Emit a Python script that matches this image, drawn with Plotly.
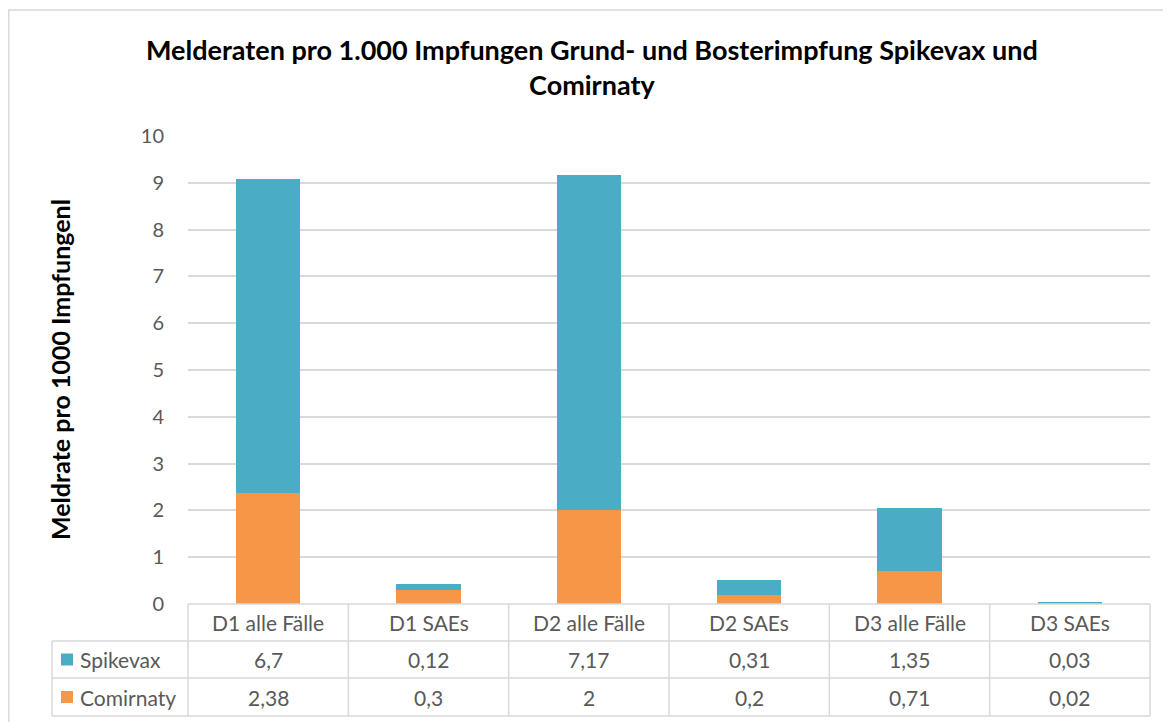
import plotly.graph_objects as go

categories = ["D1 alle Fälle", "D1 SAEs", "D2 alle Fälle", "D2 SAEs", "D3 alle Fälle", "D3 SAEs"]
spikevax = [6.7, 0.12, 7.17, 0.31, 1.35, 0.03]
comirnaty = [2.38, 0.3, 2, 0.2, 0.71, 0.02]
series = [("Spikevax", spikevax, "#4BACC6"), ("Comirnaty", comirnaty, "#F79646")]

W, H = 1171, 722
OFF = 8  # page body margin
L, R, T, B = 188, 1150, 136, 604  # plot area in screen pixels
FONT = "Lato"
GREY = "#595959"
LINE = "#d9d9d9"


def px_x(p):
    return (p - L) / (R - L)


def px_y(p):
    return (B - p) / (B - T)


def de(v):
    return f"{v:g}".replace(".", ",")


fig = go.Figure()
# Comirnaty is the bottom segment of each stack
for name, vals, col in reversed(series):
    fig.add_trace(go.Bar(name=name, x=categories, y=vals, marker_color=col,
                         marker_line_width=0, width=0.4))

shapes = []
annotations = []

# data table grid
row_y = [604, 641, 678, 716]
for i, yy in enumerate(row_y):
    x0 = L if i == 0 else 52
    shapes.append(dict(type="line", xref="paper", yref="paper",
                       x0=px_x(x0), x1=1, y0=px_y(yy), y1=px_y(yy),
                       line=dict(color=LINE, width=1.5)))
col_w = (R - L) / len(categories)
for j in range(len(categories) + 1):
    xx = L + j * col_w
    shapes.append(dict(type="line", xref="paper", yref="paper",
                       x0=px_x(xx), x1=px_x(xx), y0=px_y(604), y1=px_y(716),
                       line=dict(color=LINE, width=1.5)))
shapes.append(dict(type="line", xref="paper", yref="paper",
                   x0=px_x(52), x1=px_x(52), y0=px_y(641), y1=px_y(716),
                   line=dict(color=LINE, width=1.5)))

# outer chart border
shapes.append(dict(type="rect", xref="paper", yref="paper",
                   x0=px_x(8.8), x1=px_x(1200), y0=px_y(10), y1=px_y(760),
                   line=dict(color=LINE, width=1.5)))

cell_font = dict(family=FONT, size=21, color=GREY)

# header row
for c in categories:
    annotations.append(dict(x=c, xref="x", y=px_y(622.5), yref="paper",
                            text=c, showarrow=False, xanchor="center", yanchor="middle",
                            font=cell_font))

# value rows with legend keys
for k, (name, vals, col) in enumerate(series):
    yc = 659.5 + k * 37.5
    shapes.append(dict(type="rect", xref="paper", yref="paper",
                       x0=px_x(61), x1=px_x(73), y0=px_y(yc - 6), y1=px_y(yc + 6),
                       fillcolor=col, line_width=0))
    annotations.append(dict(x=px_x(78), xref="paper", y=px_y(yc), yref="paper",
                            text=name, showarrow=False, xanchor="left", yanchor="middle",
                            font=cell_font))
    for c, v in zip(categories, vals):
        annotations.append(dict(x=c, xref="x", y=px_y(yc), yref="paper",
                                text=de(v), showarrow=False, xanchor="center",
                                yanchor="middle", font=cell_font))

# y axis title
annotations.append(dict(x=px_x(60), xref="paper", y=0.5, yref="paper",
                        text="<b>Meldrate pro 1000 Impfungenl</b>", textangle=-90,
                        showarrow=False, xanchor="center", yanchor="middle",
                        font=dict(family=FONT, size=25, color="#000000")))

# chart title
annotations.append(dict(x=px_x(592), xref="paper", y=px_y(67), yref="paper",
                        text="<b>Melderaten pro 1.000 Impfungen Grund- und Bosterimpfung Spikevax und<br>Comirnaty</b>",
                        showarrow=False, xanchor="center", yanchor="middle",
                        font=dict(family=FONT, size=27, color="#000000")))

fig.update_layout(
    width=W, height=H, autosize=False,
    barmode="stack",
    showlegend=False,
    margin=dict(l=L - OFF, r=W - (R - OFF), t=T - OFF, b=H - (B - OFF), pad=0),
    paper_bgcolor="white",
    plot_bgcolor="white",
    font=dict(family=FONT, size=20, color=GREY),
    xaxis=dict(showticklabels=False, showgrid=False, zeroline=False, showline=False),
    yaxis=dict(range=[0, 10], dtick=1, showgrid=True, gridcolor=LINE, gridwidth=1.5,
               zeroline=False, showline=False, ticklabelstandoff=23,
               tickfont=dict(family=FONT, size=20, color=GREY)),
    shapes=shapes,
    annotations=annotations,
)

fig.write_html("out.html")
